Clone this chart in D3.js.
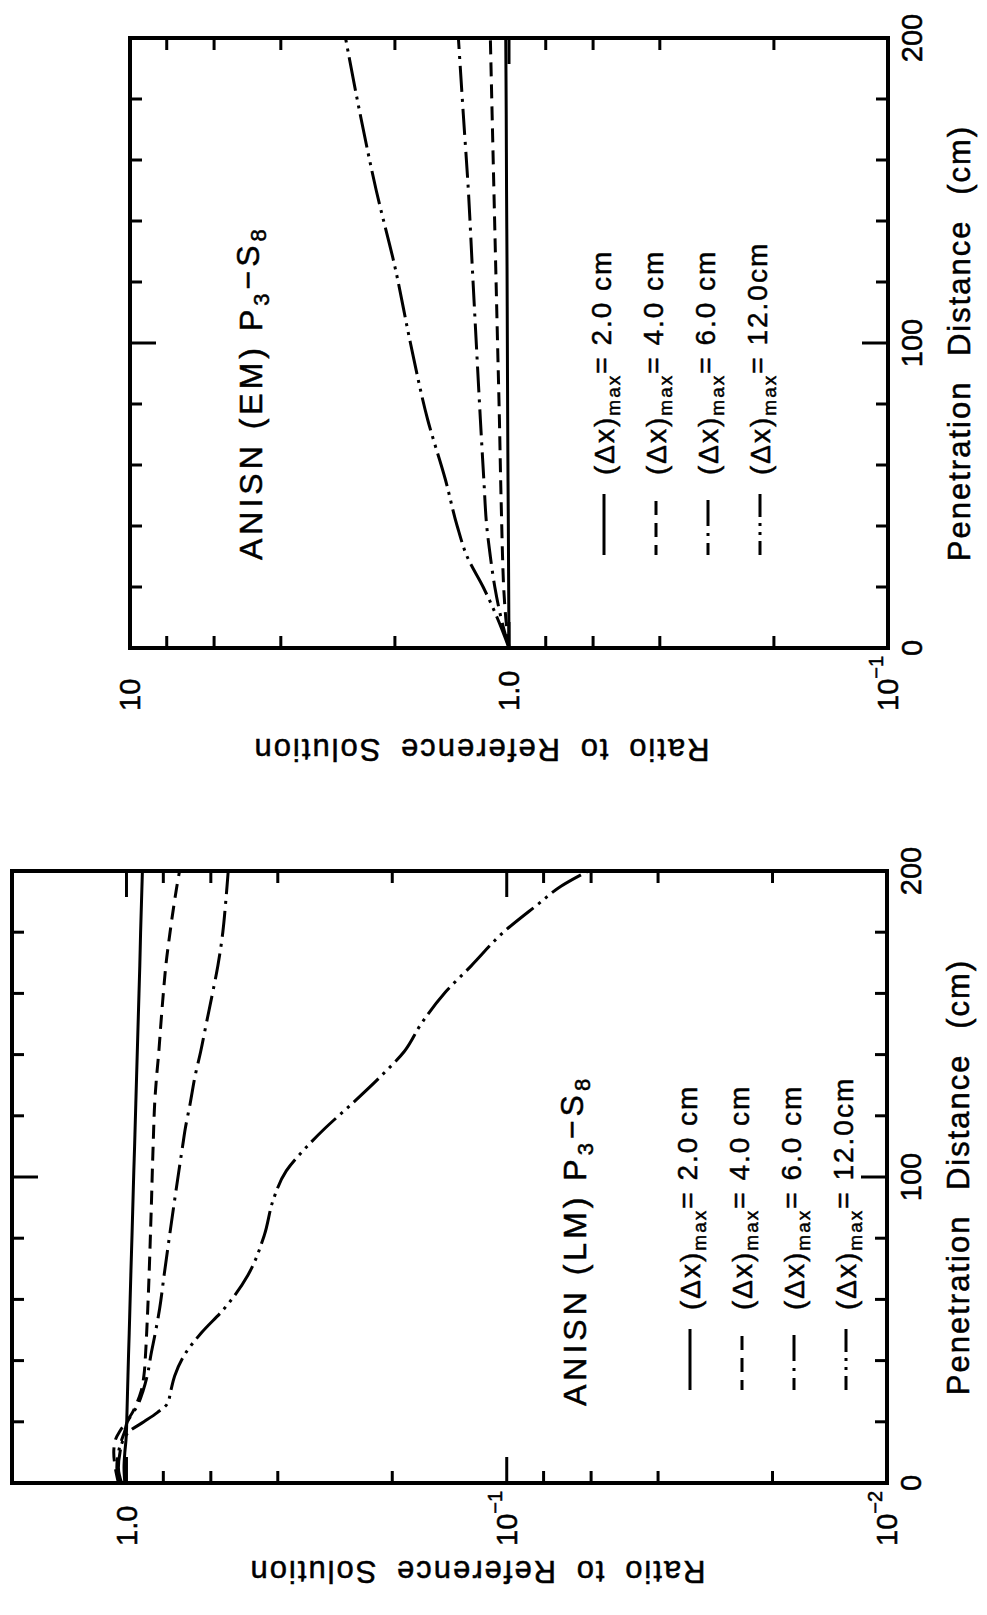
<!DOCTYPE html>
<html>
<head>
<meta charset="utf-8">
<script src="https://cdnjs.cloudflare.com/ajax/libs/d3/7.8.5/d3.min.js"></script>
<style>
  body { margin: 0; background: #fff; }
  text { font-family: "Liberation Sans", Arial, sans-serif; fill: #000; stroke: #000; stroke-width: 0.5; }
</style>
</head>
<body>
<div id="chart"></div>
<script>
/* ============================================================
   Data: ratio to reference solution vs penetration distance
   ============================================================ */

// ANISN (EM) P3-S8  (upper plot)
const emDist  = [0, 10, 20, 30, 40, 55, 75, 100, 125, 150, 175, 200];
const emDx2   = [1.0, 1.001, 1.002, 1.003, 1.004, 1.006, 1.008, 1.01, 1.012, 1.015, 1.017, 1.02];
const emDx4   = [1.0, 1.02, 1.033, 1.04, 1.045, 1.052, 1.06, 1.072, 1.084, 1.096, 1.108, 1.12];
const emDx6   = [1.0, 1.05, 1.09, 1.12, 1.145, 1.165, 1.19, 1.22, 1.25, 1.28, 1.32, 1.36];
const emDx12  = [1.0, 1.075, 1.17, 1.29, 1.37, 1.47, 1.64, 1.82, 2.0, 2.24, 2.47, 2.7];

// ANISN (LM) P3-S8  (lower plot)
const lmDist  = [0, 5, 10, 14, 17, 20, 23, 26, 30, 35, 42, 49, 57, 68, 81, 93, 102, 110, 116, 124, 133, 141, 150, 160, 169, 180, 189, 195, 200];
const lmDx2   = [1.01, 1.015, 1.01, 1.003, 1.0, 0.9985, 0.997, 0.9955, 0.9935, 0.991, 0.9875, 0.9835, 0.9795, 0.974, 0.967, 0.961, 0.9565, 0.952, 0.949, 0.945, 0.9405, 0.9365, 0.932, 0.927, 0.9225, 0.918, 0.9135, 0.9105, 0.908];
const lmDx4   = [1.05, 1.07, 1.08, 1.07, 1.04, 1.0, 0.965, 0.94, 0.915, 0.9, 0.891, 0.885, 0.879, 0.872, 0.865, 0.859, 0.855, 0.851, 0.848, 0.843, 0.833, 0.822, 0.812, 0.8, 0.788, 0.768, 0.75, 0.737, 0.725];
const lmDx6   = [1.04, 1.06, 1.05, 1.03, 1.01, 0.995, 0.96, 0.93, 0.905, 0.882, 0.862, 0.84, 0.818, 0.796, 0.77, 0.746, 0.728, 0.712, 0.7, 0.68, 0.66, 0.638, 0.617, 0.594, 0.575, 0.558, 0.549, 0.544, 0.54];
const lmDx12  = [1.03, 1.05, 1.04, 1.02, 0.98, 0.9, 0.83, 0.78, 0.765, 0.747, 0.703, 0.636, 0.553, 0.479, 0.434, 0.41, 0.38, 0.335, 0.3, 0.255, 0.214, 0.186, 0.168, 0.146, 0.124, 0.102, 0.083, 0.072, 0.061];

const legendLabels = ['2.0 cm', '4.0 cm', '6.0 cm', '12.0cm'];
const dashStyles   = [null, '14,8', '26,7,3,7', '34,6,3,6,3,6'];
const legendOffset = [0, 4, 14, 20];

const distTicks   = [20, 40, 60, 80, 100, 120, 140, 160, 180];
const distLabels  = [0, 100, 200];
const emRatioLabels = [[10, '10', ''], [1, '1.0', ''], [0.1, '10', '\u22121']];
const lmRatioLabels = [[1, '1.0', ''], [0.1, '10', '\u22121'], [0.01, '10', '\u22122']];

/* ============================================================
   One panel, drawn in the original orientation, then turned
   ============================================================ */

function drawPanel(svg, p) {
    // u: penetration (left->right), v: ratio (top->bottom) before the -90 turn
    const g = svg.append('g').attr('transform', `translate(${p.left},${p.bottom}) rotate(-90)`);
    const W = p.W, H = p.H;

    const x = d3.scaleLinear().domain([0, 200]).range([0, W]);
    const y = d3.scaleLog().domain(p.ratioDomain).range([0, H]);

    // frame
    g.append('rect').attr('x', 0).attr('y', 0).attr('width', W).attr('height', H)
        .attr('fill', 'none').attr('stroke', '#000').attr('stroke-width', 4);

    // distance ticks, both sides
    distTicks.forEach(d => {
        const len = d === 100 ? 26 : 12;
        [[0, len], [H, H - len]].forEach(([a, b]) => {
            g.append('line').attr('x1', x(d)).attr('x2', x(d)).attr('y1', a).attr('y2', b)
                .attr('stroke', '#000').attr('stroke-width', 3);
        });
    });

    // log ticks, both sides
    const [hi, lo] = p.ratioDomain;
    const logTicks = [];
    for (let e = Math.floor(Math.log10(lo)); e <= Math.ceil(Math.log10(hi)); e++) {
        [1, 2, 4, 6, 8].forEach(k => {
            const t = k * Math.pow(10, e);
            if (t > lo * 1.001 && t < hi * 0.999) logTicks.push({ t, major: k === 1 });
        });
    }
    logTicks.forEach(({ t, major }) => {
        const len = major ? 26 : 12;
        [[0, len], [W, W - len]].forEach(([a, b]) => {
            g.append('line').attr('x1', a).attr('x2', b).attr('y1', y(t)).attr('y2', y(t))
                .attr('stroke', '#000').attr('stroke-width', 3);
        });
    });

    // tick labels
    distLabels.forEach(d => {
        g.append('text').attr('x', x(d)).attr('y', H + 34).attr('text-anchor', 'middle')
            .attr('font-size', 29).text(d);
    });
    p.ratioLabels.forEach(([val, base, sup]) => {
        const t = g.append('text').attr('x', -63).attr('y', y(val)).attr('dy', '0.36em')
            .attr('font-size', 29).attr('text-anchor', 'start');
        t.append('tspan').text(base);
        if (sup) t.append('tspan').attr('font-size', 20).attr('dy', '-0.75em').text(sup);
    });

    // axis titles
    g.append('text').attr('x', W / 2).attr('y', H + 82).attr('text-anchor', 'middle')
        .attr('font-size', 31).attr('letter-spacing', 2).attr('word-spacing', 14)
        .text('Penetration Distance (cm)');
    g.append('text').attr('transform', `translate(${p.ratioTitle.u},${p.ratioTitle.v}) rotate(-90)`)
        .attr('text-anchor', 'middle').attr('dy', '0.72em')
        .attr('font-size', 31).attr('letter-spacing', 2).attr('word-spacing', 8)
        .text('Ratio to Reference Solution');

    // curves
    const line = d3.line().x(d => x(d[0])).y(d => y(d[1])).curve(d3.curveMonotoneX);
    p.series.forEach((vals, i) => {
        const pts = p.dist.map((d, j) => [d, vals[j]]);
        g.append('path').attr('d', line(pts)).attr('fill', 'none')
            .attr('stroke', '#000').attr('stroke-width', 3)
            .attr('stroke-dasharray', dashStyles[i]);
    });

    // title
    const tt = g.append('text').attr('x', p.title.u).attr('y', p.title.v)
        .attr('font-size', 32).attr('letter-spacing', 4);
    tt.append('tspan').text(`ANISN (${p.code}) P`);
    tt.append('tspan').attr('font-size', 22).attr('dy', '0.3em').text('3');
    tt.append('tspan').attr('dy', '-0.3em').text('\u2212S');
    tt.append('tspan').attr('font-size', 22).attr('dy', '0.3em').text('8');

    // legend
    legendLabels.forEach((lab, i) => {
        const v = p.legend.v0 + i * p.legend.step;
        g.append('line').attr('x1', p.legend.u0).attr('x2', p.legend.u1).attr('y1', v).attr('y2', v)
            .attr('stroke', '#000').attr('stroke-width', 3)
            .attr('stroke-dasharray', dashStyles[i]).attr('stroke-dashoffset', legendOffset[i]);
        const t = g.append('text').attr('x', p.legend.ut).attr('y', v + 10)
            .attr('font-size', 28).attr('letter-spacing', 2);
        t.append('tspan').text('(\u0394x)');
        t.append('tspan').attr('font-size', 19).attr('dy', '0.3em').text('max');
        t.append('tspan').attr('dy', '-0.3em').text(`= ${lab}`);
    });
}

const svg = d3.select('#chart').append('svg').attr('width', 987).attr('height', 1615);

drawPanel(svg, {
    left: 130, bottom: 648, W: 610, H: 758,
    ratioDomain: [10, 0.1], ratioLabels: emRatioLabels,
    dist: emDist, series: [emDx2, emDx4, emDx6, emDx12],
    code: 'EM',
    title: { u: 88, v: 132 },
    legend: { v0: 474, step: 52, u0: 93, u1: 154, ut: 173 },
    ratioTitle: { u: -113, v: 351 }
});

drawPanel(svg, {
    left: 12, bottom: 1483, W: 612, H: 875,
    ratioDomain: [2, 0.01], ratioLabels: lmRatioLabels,
    dist: lmDist, series: [lmDx2, lmDx4, lmDx6, lmDx12],
    code: 'LM',
    title: { u: 77, v: 574 },
    legend: { v0: 678, step: 52, u0: 93, u1: 154, ut: 173 },
    ratioTitle: { u: -100, v: 465 }
});
</script>
</body>
</html>
